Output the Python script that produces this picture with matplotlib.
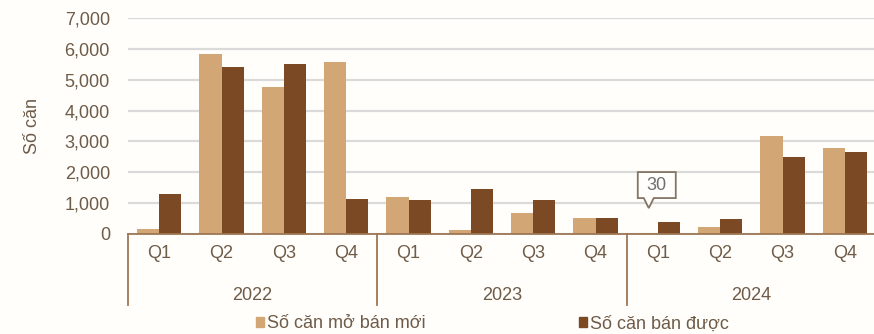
import matplotlib
matplotlib.use("Agg")
import matplotlib.pyplot as plt
import matplotlib.transforms as mtransforms
from matplotlib.patches import Patch, Polygon
import numpy as np

plt.rcParams['font.family'] = ['Liberation Sans', 'DejaVu Sans']

years = ["2022", "2023", "2024"]
quarters = ["Q1", "Q2", "Q3", "Q4"]
moi_mo_ban = [160, 5830, 4760, 5570, 1200, 130, 680, 520, 30, 230, 3170, 2780]
ban_duoc = [1300, 5400, 5500, 1130, 1100, 1460, 1100, 520, 390, 490, 2490, 2650]
series_names = ["Số căn mở bán mới", "Số căn bán được"]
y_ticks = [0, 1000, 2000, 3000, 4000, 5000, 6000, 7000]

c_light = "#D3A676"
c_dark = "#7B4A25"
txt = "#6e5b48"
axis_c = "#9c7654"
bg = "#fffefb"
fs = 13

fig = plt.figure(figsize=(8.74, 3.34), dpi=100, facecolor=bg)
ax = fig.add_axes([128 / 874, 1 - 234 / 334, 748 / 874, 216 / 334], facecolor=bg)

x = np.arange(len(moi_mo_ban))
w = 0.355
ax.bar(x - w / 2, moi_mo_ban, w, color=c_light, zorder=3)
ax.bar(x + w / 2, ban_duoc, w, color=c_dark, zorder=3)

ax.set_xlim(-0.5, len(x) - 0.5)
ax.set_ylim(0, 7000)
ax.set_yticks(y_ticks)
ax.set_yticklabels([f"{v:,}" for v in y_ticks], color=txt, fontsize=fs)
ax.tick_params(axis='y', length=0, pad=13)
ax.grid(axis='y', color="#dadada", lw=1.6, zorder=0)
ax.set_xticks([])
for s in ["top", "right", "left"]:
    ax.spines[s].set_visible(False)
ax.spines["bottom"].set_color(axis_c)
ax.spines["bottom"].set_linewidth(1.3)
ax.spines["bottom"].set_zorder(4)

ax.set_ylabel("Số căn", color=txt, fontsize=fs, labelpad=17)

# two-level category axis
tr = mtransforms.blended_transform_factory(ax.transData, ax.transAxes)
ax_h = 216.0
for i in range(len(x)):
    ax.text(i, -20 / ax_h, quarters[i % 4], transform=tr, ha='center', va='center',
            color=txt, fontsize=fs)
for j, yr in enumerate(years):
    ax.text(4 * j + 1.5, -62 / ax_h, yr, transform=tr, ha='center', va='center',
            color=txt, fontsize=fs)
for b in [-0.5, 3.5, 7.5, 11.5]:
    ax.plot([b, b], [0, -71 / ax_h], transform=tr, color=axis_c, lw=1.3, clip_on=False)

# speech-bubble callout above the tiny 2024 Q1 bar (shape in pixels)
i_call = 8
xi = i_call - w / 2
anchor = (fig.dpi_scale_trans
          + mtransforms.ScaledTranslation(xi, moi_mo_ban[i_call], ax.transData))
px = 1 / fig.dpi
tip = (2, 25)
shape = [(-11, 10), (-5, 10), (0, 0), (5, 10), (27, 10), (27, 36), (-11, 36)]
verts = [((tip[0] + sx) * px, (tip[1] + sy) * px) for sx, sy in shape]
bubble = Polygon(verts, closed=True, transform=anchor, fc=bg, ec="#857565",
                 lw=1.3, zorder=6, clip_on=False)
ax.add_patch(bubble)
ax.text((tip[0] + 8) * px, (tip[1] + 23) * px, f"{moi_mo_ban[i_call]}", transform=anchor,
        ha='center', va='center', fontsize=fs, color="#6f6f6f", zorder=7)

handles = [Patch(color=c_light), Patch(color=c_dark)]
fig.legend(handles, series_names, loc='center', bbox_to_anchor=(0.563, 0.03), ncol=2,
           frameon=False, fontsize=fs, labelcolor=txt, handlelength=0.45, handleheight=0.45,
           handletextpad=0.15, columnspacing=8.5)

fig.savefig("out.png", dpi=100, facecolor=bg)
